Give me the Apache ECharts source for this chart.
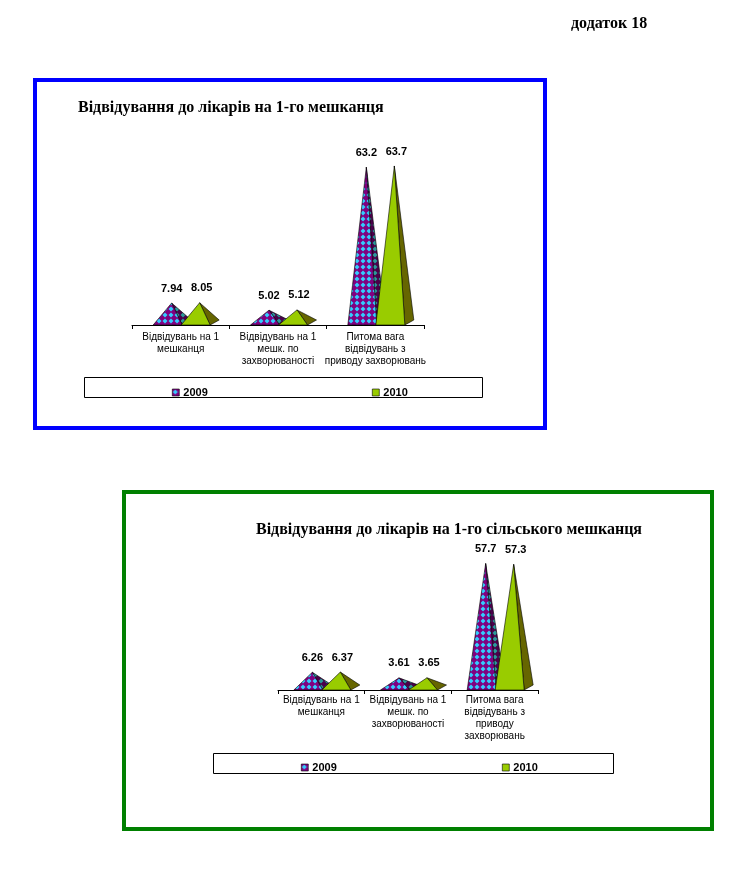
<!DOCTYPE html>
<html>
<head>
<meta charset="utf-8">
<script src="https://cdn.jsdelivr.net/npm/echarts@6/dist/echarts.min.js"></script>
<style>
  html, body { margin: 0; padding: 0; background: #fff; }
  #main { width: 737px; height: 884px; }
</style>
</head>
<body>
<div id="main"></div>
<script>
// категорії та значення
const categories1 = ['Відвідувань на 1\nмешканця', 'Відвідувань на 1\nмешк. по\nзахворюваності', 'Питома вага\nвідвідувань з\nприводу захворювань'];
const categories2 = ['Відвідувань на 1\nмешканця', 'Відвідувань на 1\nмешк. по\nзахворюваності', 'Питома вага\nвідвідувань з\nприводу\nзахворювань'];
const years = ['2009', '2010'];
const town2009 = [7.94, 5.02, 63.2];
const town2010 = [8.05, 5.12, 63.7];
const village2009 = [6.26, 3.61, 57.7];
const village2010 = [6.37, 3.65, 57.3];

const SANS = '"Liberation Sans", Arial, sans-serif';
const SERIF = '"Liberation Serif", "Times New Roman", serif';

// візерунок "ромбики" для 2009
function makePattern(bg, fg){
    let c = document.createElement('canvas');
    c.width = 6; c.height = 6;
    let ctx = c.getContext('2d');
    ctx.fillStyle = bg;
    ctx.fillRect(0, 0, 6, 6);
    ctx.fillStyle = fg;
    ctx.beginPath();
    ctx.moveTo(3, 0.5); ctx.lineTo(5.5, 3); ctx.lineTo(3, 5.5); ctx.lineTo(0.5, 3);
    ctx.closePath();
    ctx.fill();
    return { image: c, repeat: 'repeat' };
}
const pat2009 = makePattern('#800080', '#33CCFF');
const pat2009side = makePattern('#4a004a', '#2a9a9a');

const faces = {
    '2009': { front: pat2009, side: pat2009side, shift: -13, lx: 0 },
    '2010': { front: '#99CC00', side: '#666600', shift: 15, lx: 2 }
};

// lift - "товщина" 3D-підлоги, на яку піднято вершину
function pyramid(year, lift){
    return function(params, api){
        let f = faces[year];
        let base = api.coord([api.value(0), 0]);
        let top = api.coord([api.value(0), api.value(1)]);
        let cx = base[0] + f.shift, by = base[1], ty = top[1] - lift;
        let hw = 14.5, d = 9, ax = cx + 4;
        return {
            type: 'group',
            children: [{
                type: 'polygon',
                shape: { points: [[cx + hw, by], [cx + hw + d, by - 5], [ax, ty]] },
                style: { fill: f.side, stroke: '#000', lineWidth: 0.6 }
            }, {
                type: 'polygon',
                shape: { points: [[cx - hw, by], [cx + hw, by], [ax, ty]] },
                style: { fill: f.front, stroke: '#000', lineWidth: 0.6 }
            }, {
                type: 'text',
                style: {
                    text: String(api.value(1)),
                    x: ax + f.lx, y: ty - 9,
                    align: 'center', verticalAlign: 'bottom',
                    font: 'bold 11px ' + SANS, fill: '#000'
                }
            }]
        };
    };
}

function seriesFor(year, values, idx, lift){
    return {
        name: year,
        type: 'custom',
        xAxisIndex: idx,
        yAxisIndex: idx,
        itemStyle: { color: faces[year].front },
        renderItem: pyramid(year, lift),
        data: values.map((v, i) => [i, v])
    };
}

function xAxisFor(cats, idx, margin){
    return {
        type: 'category',
        gridIndex: idx,
        data: cats,
        axisLine: { lineStyle: { color: '#000', width: 1 } },
        axisTick: { show: true, length: 4, lineStyle: { color: '#000' } },
        axisLabel: { interval: 0, margin: margin, color: '#000', fontSize: 10, lineHeight: 12, fontFamily: SANS }
    };
}

function legendFor(year, left, top){
    return {
        data: [{ name: year, icon: 'rect', itemStyle: { color: faces[year].front, borderColor: '#000', borderWidth: 0.6 } }],
        left: left, top: top,
        itemWidth: 7, itemHeight: 7,
        textStyle: { fontWeight: 'bold', fontSize: 11, fontFamily: SANS, color: '#000', padding: [0, 0, 0, -1] }
    };
}

let chart = echarts.init(document.getElementById('main'));
chart.setOption({
    animation: false,
    backgroundColor: '#fff',
    grid: [
        { left: 132, width: 292, top: 153, height: 172 },
        { left: 278, width: 260, top: 542, height: 148 }
    ],
    xAxis: [xAxisFor(categories1, 0, 6), xAxisFor(categories2, 1, 4)],
    yAxis: [
        { gridIndex: 0, min: 0, max: 70, show: false },
        { gridIndex: 1, min: 0, max: 70, show: false }
    ],
    legend: [
        legendFor(years[0], 167, 382),
        legendFor(years[1], 367, 382),
        legendFor(years[0], 296, 757),
        legendFor(years[1], 497, 757)
    ],
    graphic: [
        { type: 'text', left: 571, top: 16, style: { text: 'додаток 18', font: 'bold 16px ' + SERIF, fill: '#000' } },
        { type: 'rect', shape: { x: 35, y: 80, width: 510, height: 348 }, style: { fill: 'none', stroke: '#0000FF', lineWidth: 4 } },
        { type: 'text', left: 78, top: 100, style: { text: 'Відвідування до лікарів на 1-го мешканця', font: 'bold 16px ' + SERIF, fill: '#000' } },
        { type: 'rect', shape: { x: 84.5, y: 377.5, width: 398, height: 20 }, style: { fill: 'none', stroke: '#000', lineWidth: 1 } },
        { type: 'rect', shape: { x: 124, y: 492, width: 588, height: 337 }, style: { fill: 'none', stroke: '#008000', lineWidth: 4 } },
        { type: 'text', left: 256, top: 522, style: { text: 'Відвідування до лікарів на 1-го сільського мешканця', font: 'bold 16px ' + SERIF, fill: '#000' } },
        { type: 'rect', shape: { x: 213.5, y: 753.5, width: 400, height: 20 }, style: { fill: 'none', stroke: '#000', lineWidth: 1 } }
    ],
    series: [
        seriesFor(years[0], town2009, 0, 2.5),
        seriesFor(years[1], town2010, 0, 2.5),
        seriesFor(years[0], village2009, 1, 4.5),
        seriesFor(years[1], village2010, 1, 4.5)
    ]
});
</script>
</body>
</html>
